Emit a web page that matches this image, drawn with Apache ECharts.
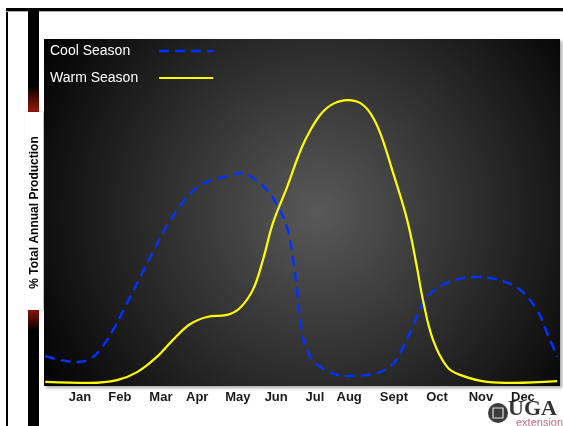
<!DOCTYPE html>
<html>
<head>
<meta charset="utf-8">
<script src="https://cdn.jsdelivr.net/npm/echarts@6/dist/echarts.min.js"></script>
<style>html,body{margin:0;padding:0;background:#fff;}#c{width:563px;height:426px;}</style>
</head>
<body>
<div id="c"></div>
<script>
const months = ['Jan','Feb','Mar','Apr','May','Jun','Jul','Aug','Sept','Oct','Nov','Dec'];
const monthPos = [0.99,1.98,3.0,3.9,4.91,5.86,6.82,7.67,8.78,9.85,10.94,11.98];

const coolSeason = [
 [0.13,8.6],[0.50,7.5],[0.92,6.9],[1.24,7.8],[1.49,10.4],[1.81,16.1],[2.16,23.9],[2.48,31.2],
 [2.80,38.6],[3.15,46.2],[3.47,51.8],[3.80,56.3],[4.14,58.8],[4.64,60.5],[5.04,61.4],[5.28,59.9],
 [5.63,56.5],[5.88,52.2],[6.13,45.8],[6.28,36.3],[6.38,27.7],[6.45,19.0],[6.62,10.4],[6.95,5.5],
 [7.62,2.9],[8.11,3.2],[8.68,5.5],[9.01,11.2],[9.35,19.9],[9.60,25.6],[10.10,29.7],[10.84,31.4],
 [11.41,30.5],[11.91,27.7],[12.33,21.9],[12.58,15.3],[12.83,8.4]
];
const warmSeason = [
 [0.13,1.2],[1.24,0.9],[1.91,1.7],[2.41,4.0],[2.90,8.4],[3.30,13.3],[3.72,17.8],[4.14,19.9],
 [4.64,20.5],[4.96,22.5],[5.28,27.7],[5.53,36.3],[5.78,47.0],[6.13,57.3],[6.40,66.0],[6.62,71.8],
 [6.95,78.1],[7.27,81.3],[7.64,82.4],[7.94,81.6],[8.19,78.7],[8.44,72.9],[8.76,61.4],[9.11,47.8],
 [9.35,34.3],[9.50,24.8],[9.75,13.3],[10.10,5.5],[10.42,3.2],[11.09,1.2],[11.73,0.9],[12.83,1.4]
];

const dashIcon = 'path://M0,0h10v2.4h-10z M16,0h10v2.4h-10z M32,0h10v2.4h-10z M48,0h6v2.4h-6z';
const solidIcon = 'path://M0,0h54v2.2h-54z';

const chart = echarts.init(document.getElementById('c'), null, {renderer:'canvas'});
chart.setOption({
  animation:false,
  backgroundColor:'#ffffff',
  grid:{
    left:44, right:3, top:39, bottom:40, show:true, borderWidth:0,
    backgroundColor:{type:'radial', x:0.53, y:0.5, r:0.95,
      colorStops:[{offset:0,color:'#595959'},{offset:0.55,color:'#282828'},{offset:1,color:'#000000'}]},
    shadowColor:'rgba(0,0,0,0.35)', shadowBlur:3, shadowOffsetX:2, shadowOffsetY:2
  },
  legend:{
    orient:'vertical', left:50, top:44, padding:0, itemGap:13, align:'right',
    itemWidth:54, itemHeight:14,
    textStyle:{color:'#ffffff', fontSize:14, fontFamily:'Liberation Sans, Arial'},
    data:[
      {name:'Cool Season', icon:dashIcon, itemStyle:{color:'#0033ff'}, textStyle:{padding:[0,24,0,0]}},
      {name:'Warm Season', icon:solidIcon, itemStyle:{color:'#ffff00'}, textStyle:{padding:[0,16,0,0]}}
    ]
  },
  xAxis:{
    type:'value', min:0.1, max:12.9,
    axisLine:{show:false}, axisTick:{show:false}, splitLine:{show:false},
    axisLabel:{
      customValues:monthPos, margin:5,
      color:'#1a1a1a', fontWeight:'bold', fontSize:13, fontFamily:'Liberation Sans, Arial',
      formatter:function(v){
        let best=0; for(let i=0;i<monthPos.length;i++){ if(Math.abs(monthPos[i]-v)<Math.abs(monthPos[best]-v)) best=i; }
        return months[best];
      }
    }
  },
  yAxis:{
    type:'value', min:0, max:100,
    axisLine:{show:false}, axisTick:{show:false}, splitLine:{show:false}, axisLabel:{show:false},
    name:'% Total Annual Production', nameLocation:'middle', nameGap:3,
    nameTextStyle:{color:'#000', fontWeight:'bold', fontSize:12, fontFamily:'Liberation Sans, Arial'}
  },
  graphic:[
    {type:'rect', z:-10, shape:{x:6, y:9, width:2, height:417}, style:{fill:'#000'}},
    {type:'rect', z:-10, shape:{x:6, y:8, width:557, height:3}, style:{fill:'#000'}},
    {type:'rect', z:-10, shape:{x:6, y:11, width:557, height:1}, style:{fill:'#aaa'}},
    {type:'rect', z:-9, shape:{x:28, y:11, width:11, height:415},
      style:{fill:{type:'linear', x:0, y:0, x2:0, y2:1, colorStops:[
        {offset:0,color:'#000'},{offset:0.18,color:'#000'},{offset:0.235,color:'#8a1608'},
        {offset:0.72,color:'#8a1608'},{offset:0.77,color:'#000'},{offset:1,color:'#000'}]}}},
    {type:'rect', z:-8, shape:{x:25, y:112, width:18, height:198}, style:{fill:'#fff', shadowColor:'rgba(0,0,0,0.3)', shadowBlur:2, shadowOffsetX:1}},
    {type:'circle', z:10, shape:{cx:498, cy:413, r:10}, style:{fill:'#3a3a3a'}},
    {type:'rect', z:11, shape:{x:493, y:408, width:10, height:10}, style:{fill:'none', stroke:'#ddd', lineWidth:1.2}},
    {type:'text', z:10, left:508, top:398, style:{text:'UGA', fill:'#333', font:'bold 22px "Liberation Serif", "DejaVu Serif", serif'}},
    {type:'text', z:10, left:516, top:417, style:{text:'extension', fill:'#c46a8a', font:'11px "Liberation Sans", Arial'}}
  ],
  series:[
    {name:'Cool Season', type:'line', data:coolSeason, showSymbol:false, symbol:'none', smooth:0.4,
      lineStyle:{color:'#0033ff', width:2.4, type:[10,6]}, itemStyle:{color:'#0033ff'}},
    {name:'Warm Season', type:'line', data:warmSeason, showSymbol:false, symbol:'none', smooth:0.4,
      lineStyle:{color:'#ffff00', width:2.2}, itemStyle:{color:'#ffff00'}}
  ]
});
</script>
</body>
</html>
